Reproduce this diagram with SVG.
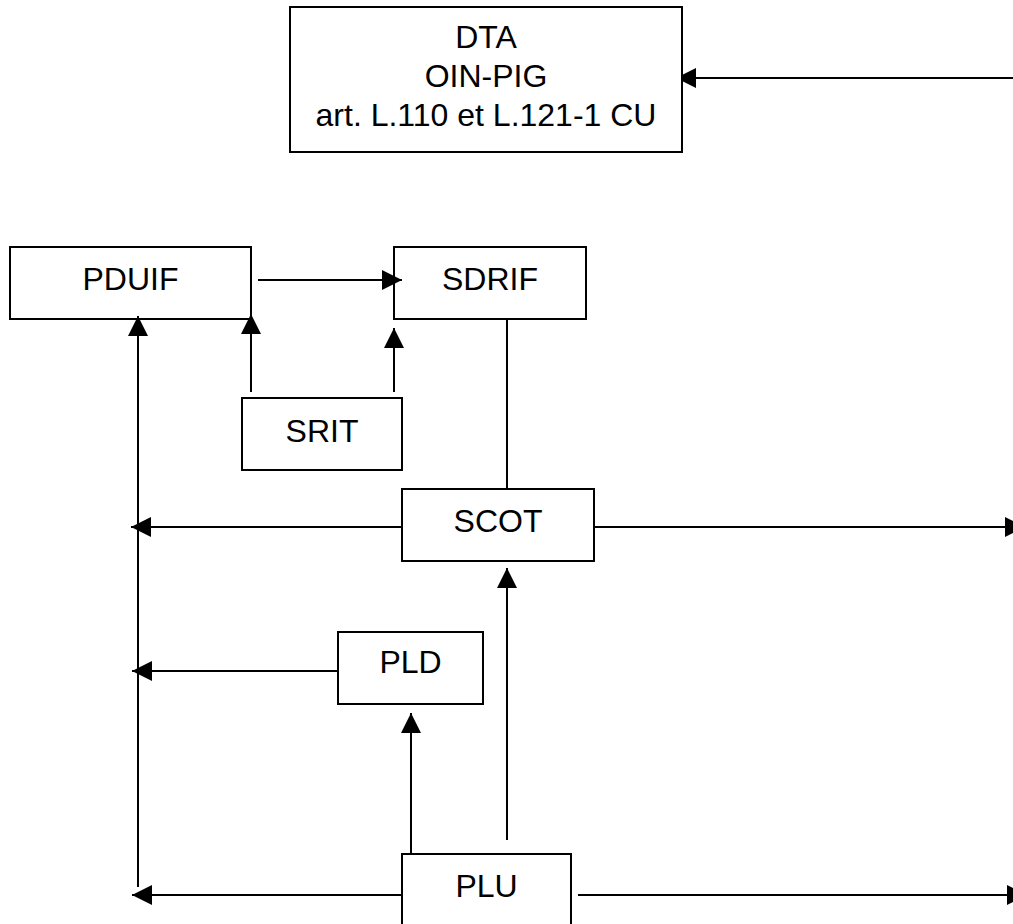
<svg xmlns="http://www.w3.org/2000/svg" width="1013" height="924" viewBox="0 0 1013 924">
<style>
.box{fill:#fff;stroke:#000;stroke-width:2}
.lbl{font-family:"Liberation Sans",Arial,sans-serif;font-size:32px;fill:#000;text-anchor:middle}
.c{stroke:#000;stroke-width:2;fill:none}
.a{marker-end:url(#ah)}
</style>
<defs>
<marker id="ah" markerUnits="userSpaceOnUse" markerWidth="20" markerHeight="20" refX="20" refY="10" orient="auto" overflow="visible">
<path d="M0,0 L20,10 L0,20 Z" fill="#000"/>
</marker>
<marker id="aht" markerUnits="userSpaceOnUse" markerWidth="13" markerHeight="20" refX="13" refY="10" orient="auto" overflow="visible">
<path d="M0,0 L13,6.5 L13,13.5 L0,20 Z" fill="#000"/>
</marker>
</defs>
<rect width="1013" height="924" fill="#fff"/>
<g id="nodes">
<g id="dta"><rect class="box" x="290" y="7" width="392" height="145"/>
<text class="lbl" x="486" y="48">DTA</text>
<text class="lbl" x="486" y="87">OIN-PIG</text>
<text class="lbl" x="486" y="126">art. L.110 et L.121-1 CU</text></g>
<g id="pduif"><rect class="box" x="10" y="247" width="241" height="72"/><text class="lbl" x="130.5" y="290">PDUIF</text></g>
<g id="sdrif"><rect class="box" x="394" y="247" width="192" height="72"/><text class="lbl" x="490" y="290">SDRIF</text></g>
<g id="srit"><rect class="box" x="242" y="398" width="160" height="72"/><text class="lbl" x="322" y="442">SRIT</text></g>
<g id="scot"><rect class="box" x="402" y="489" width="192" height="72"/><text class="lbl" x="498" y="532">SCOT</text></g>
<g id="pld"><rect class="box" x="338" y="632" width="145" height="72"/><text class="lbl" x="410.5" y="673">PLD</text></g>
<g id="plu"><rect class="box" x="402" y="854" width="169" height="90"/><text class="lbl" x="486.5" y="897">PLU</text></g>
</g>
<g id="connectors">
<line class="c" x1="1020" y1="78" x2="683" y2="78" marker-end="url(#aht)"/>
<line class="c a" x1="258" y1="280" x2="402" y2="280"/>
<line class="c a" x1="251" y1="392" x2="251" y2="314"/>
<line class="c a" x1="394" y1="392" x2="394" y2="328"/>
<line class="c" x1="507" y1="319" x2="507" y2="489"/>
<line class="c a" x1="402" y1="527" x2="131" y2="527"/>
<line class="c a" x1="594" y1="527" x2="1025" y2="527"/>
<line class="c a" x1="507" y1="840" x2="507" y2="568"/>
<line class="c a" x1="338" y1="671" x2="132" y2="671"/>
<line class="c a" x1="411" y1="853" x2="411" y2="713"/>
<line class="c a" x1="402" y1="895" x2="132" y2="895"/>
<line class="c a" x1="578" y1="895" x2="1027" y2="895"/>
<line class="c a" x1="138" y1="887" x2="138" y2="316"/>
</g>
</svg>
